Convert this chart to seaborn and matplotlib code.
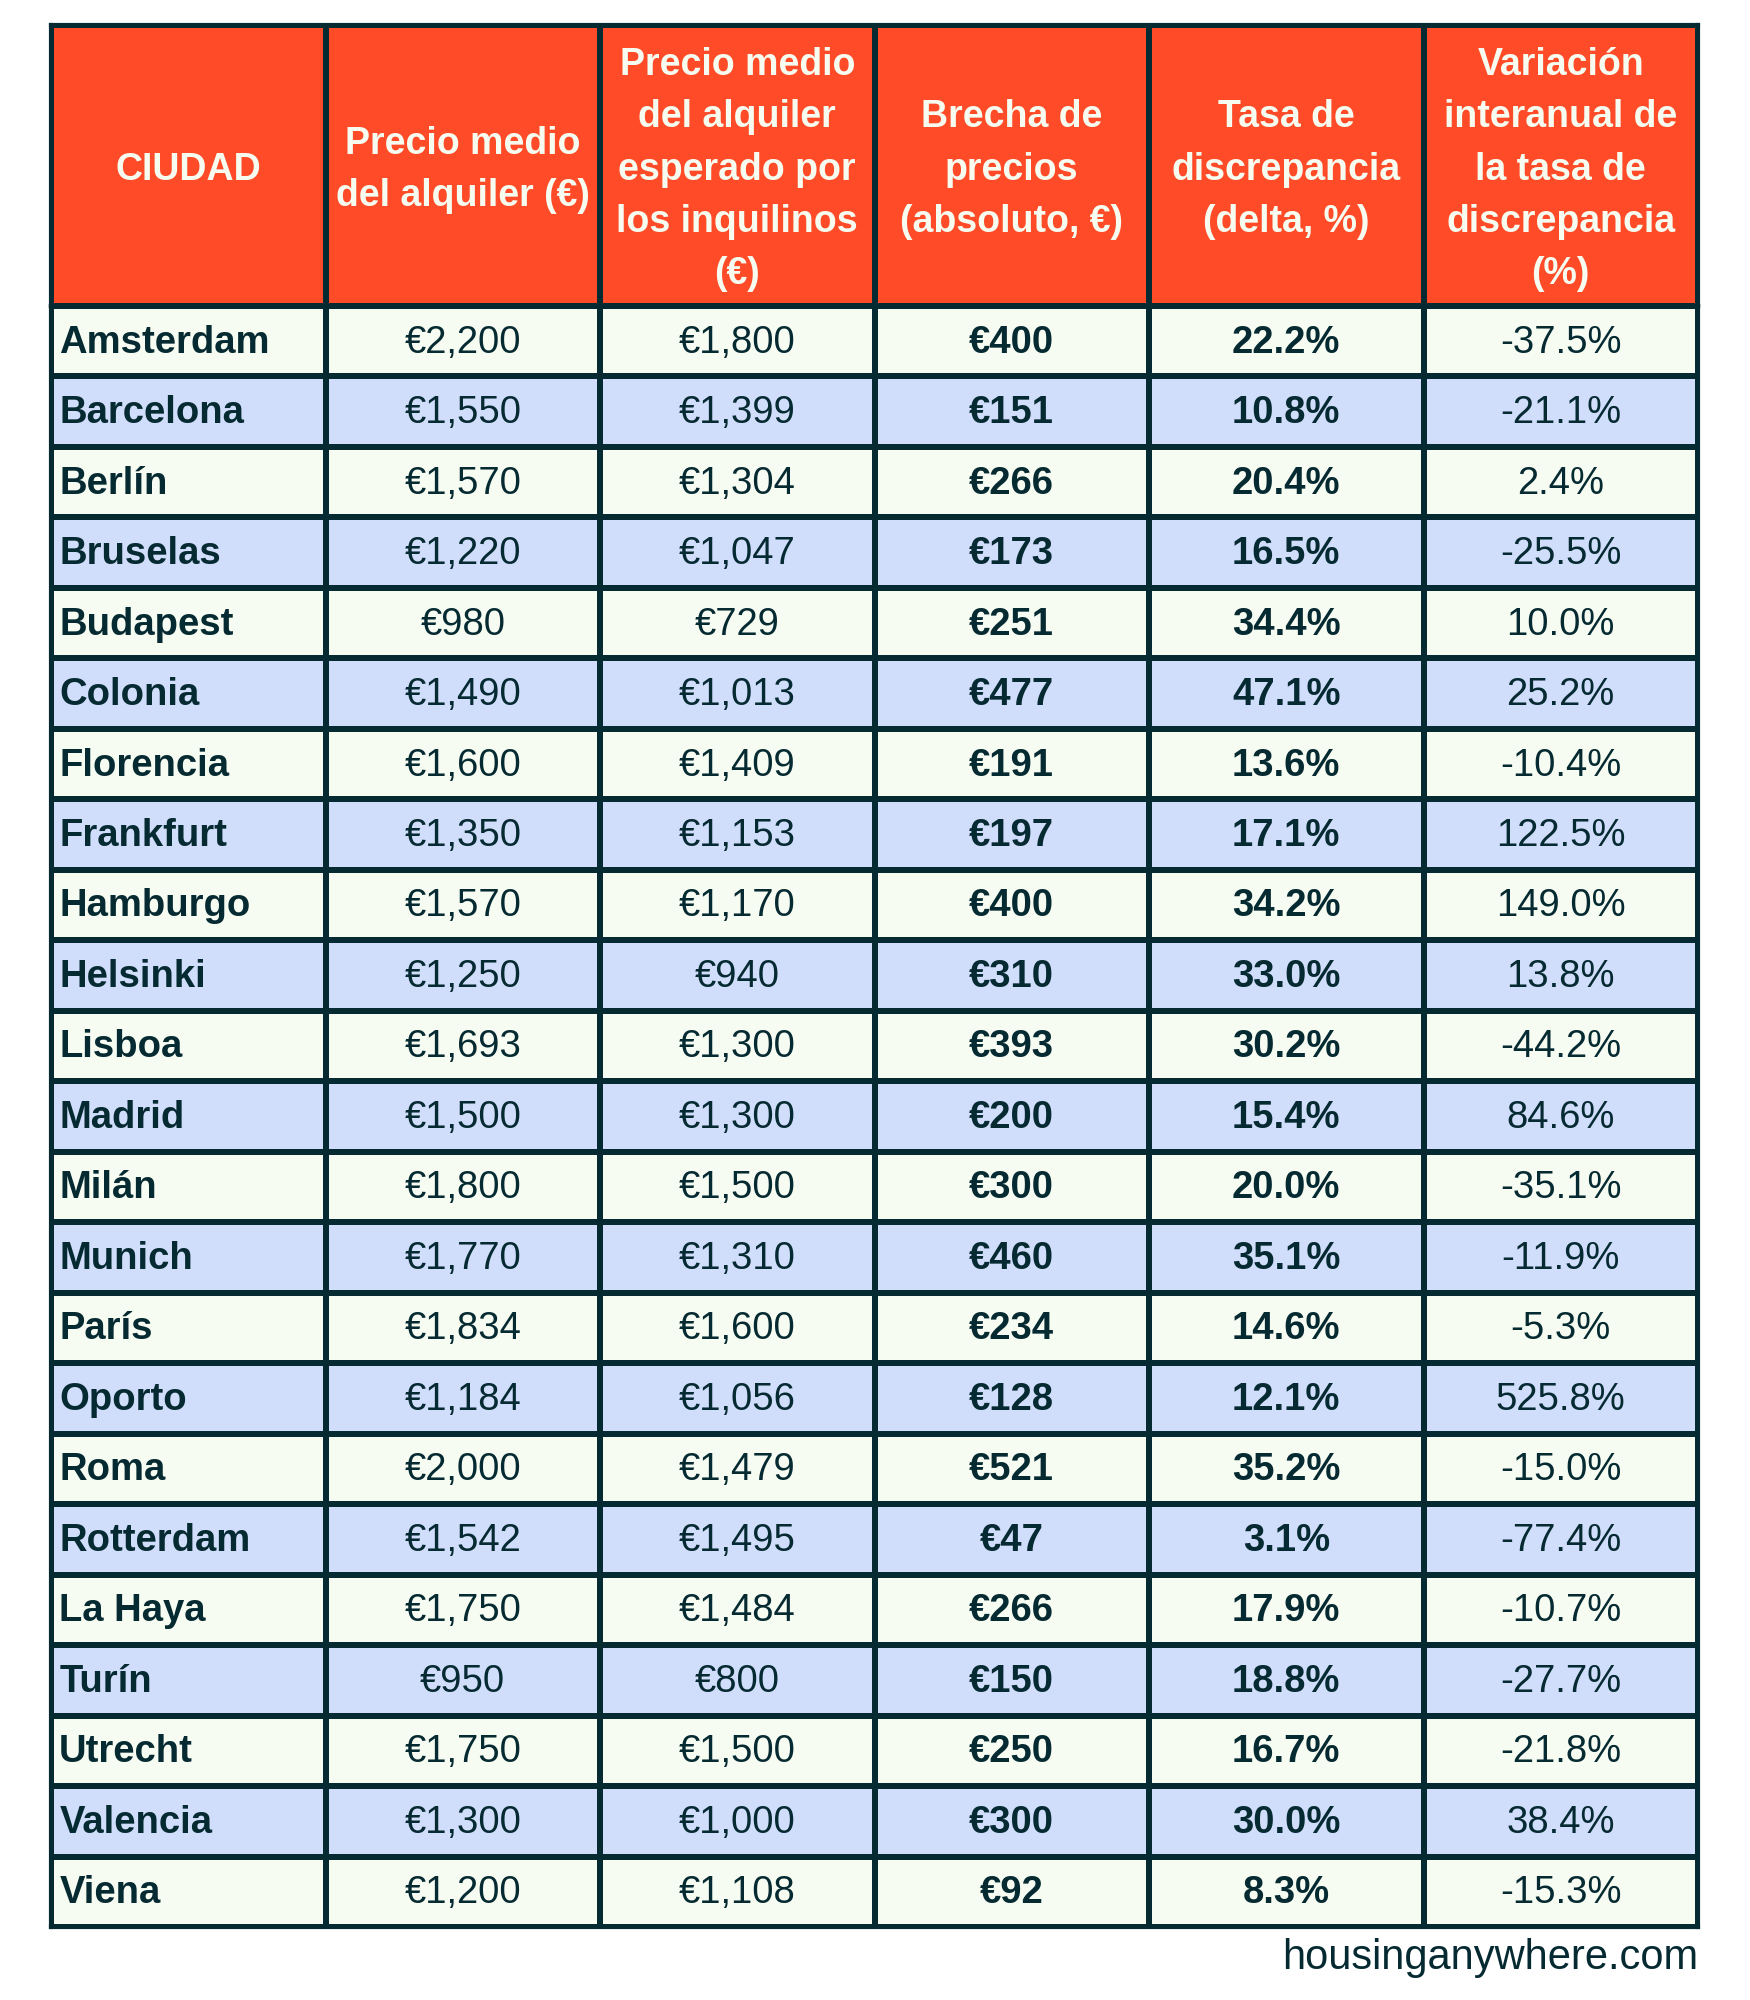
import numpy as np
import pandas as pd
import matplotlib
matplotlib.use("Agg")
import matplotlib.pyplot as plt
import seaborn as sns
from matplotlib.colors import ListedColormap

# Table content
headers = [
    "CIUDAD",
    "Precio medio\ndel alquiler (€)",
    "Precio medio\ndel alquiler\nesperado por\nlos inquilinos\n(€)",
    "Brecha de\nprecios\n(absoluto, €)",
    "Tasa de\ndiscrepancia\n(delta, %)",
    "Variación\ninteranual de\nla tasa de\ndiscrepancia\n(%)",
]
cities = ["Amsterdam", "Barcelona", "Berlín", "Bruselas", "Budapest", "Colonia",
          "Florencia", "Frankfurt", "Hamburgo", "Helsinki", "Lisboa", "Madrid",
          "Milán", "Munich", "París", "Oporto", "Roma", "Rotterdam", "La Haya",
          "Turín", "Utrecht", "Valencia", "Viena"]
avg_rent = [2200, 1550, 1570, 1220, 980, 1490, 1600, 1350, 1570, 1250, 1693, 1500,
            1800, 1770, 1834, 1184, 2000, 1542, 1750, 950, 1750, 1300, 1200]
expected_rent = [1800, 1399, 1304, 1047, 729, 1013, 1409, 1153, 1170, 940, 1300, 1300,
                 1500, 1310, 1600, 1056, 1479, 1495, 1484, 800, 1500, 1000, 1108]
price_gap = [400, 151, 266, 173, 251, 477, 191, 197, 400, 310, 393, 200,
             300, 460, 234, 128, 521, 47, 266, 150, 250, 300, 92]
gap_rate = [22.2, 10.8, 20.4, 16.5, 34.4, 47.1, 13.6, 17.1, 34.2, 33.0, 30.2, 15.4,
            20.0, 35.1, 14.6, 12.1, 35.2, 3.1, 17.9, 18.8, 16.7, 30.0, 8.3]
yoy_change = [-37.5, -21.1, 2.4, -25.5, 10.0, 25.2, -10.4, 122.5, 149.0, 13.8, -44.2, 84.6,
              -35.1, -11.9, -5.3, 525.8, -15.0, -77.4, -10.7, -27.7, -21.8, 38.4, -15.3]

# Colours
HEADER_BG = "#FF4B28"
HEADER_FG = "#F6FCEF"
ROW_LIGHT = "#F7FCF2"
ROW_BLUE = "#D0DDFB"
DARK = "#062A31"

sns.set_theme(style="white")
plt.rcParams["font.family"] = ["Liberation Sans", "DejaVu Sans"]

df = pd.DataFrame({
    "city": cities,
    "avg": [f"€{v:,}" for v in avg_rent],
    "expected": [f"€{v:,}" for v in expected_rent],
    "gap": [f"€{v:,}" for v in price_gap],
    "rate": [f"{v:.1f}%" for v in gap_rate],
    "yoy": [f"{v:.1f}%" for v in yoy_change],
})
bold_cols = {"city", "gap", "rate"}

fig = plt.figure(figsize=(17.5, 20), dpi=100)
W, H = 1750, 2000
left, right = 51, 1698
top, head_bot, bot = 25, 306, 1927
lw = 3.0

# Header block
ax_h = fig.add_axes([left / W, 1 - head_bot / H, (right - left) / W, (head_bot - top) / H])
sns.heatmap(np.zeros((1, 6)), ax=ax_h, cmap=ListedColormap([HEADER_BG]), cbar=False,
            linewidths=lw, linecolor=DARK, xticklabels=False, yticklabels=False)
for j, h in enumerate(headers):
    ax_h.text(j + 0.5, 0.515, h, ha="center", va="center", color=HEADER_FG,
              fontsize=27, fontweight="bold", linespacing=1.58)

# Body block
n = len(cities)
stripes = np.array([[i % 2] * 6 for i in range(n)])
ax_b = fig.add_axes([left / W, 1 - bot / H, (right - left) / W, (bot - head_bot) / H])
sns.heatmap(stripes, ax=ax_b, cmap=ListedColormap([ROW_LIGHT, ROW_BLUE]), cbar=False,
            linewidths=lw, linecolor=DARK, xticklabels=False, yticklabels=False)
for i, row in df.iterrows():
    for j, col in enumerate(df.columns):
        weight = "bold" if col in bold_cols else "normal"
        if col == "city":
            ax_b.text(j + 0.03, i + 0.52, row[col], ha="left", va="center",
                      color=DARK, fontsize=27.5, fontweight=weight)
        else:
            ax_b.text(j + 0.5, i + 0.52, row[col], ha="center", va="center",
                      color=DARK, fontsize=27.5, fontweight=weight)

for ax in (ax_h, ax_b):
    for s in ax.spines.values():
        s.set_visible(True)
        s.set_color(DARK)
        s.set_linewidth(lw)

fig.text(right / W, 1 - 1969 / H, "housinganywhere.com", ha="right", va="baseline",
         color=DARK, fontsize=30)

fig.savefig("out.png", dpi=100, facecolor="white")
